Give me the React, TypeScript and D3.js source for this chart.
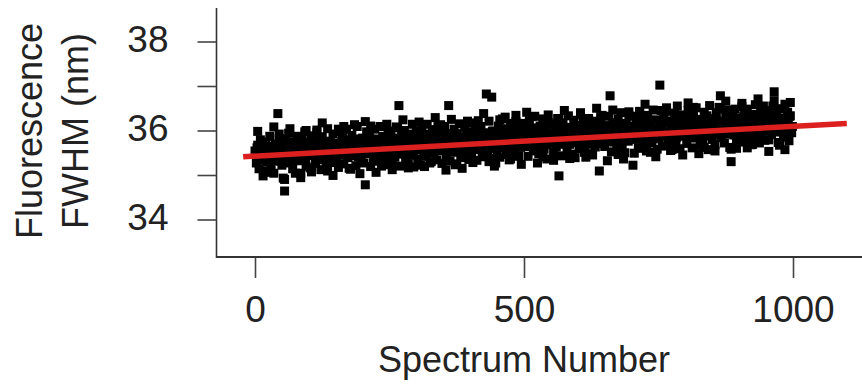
import { useEffect, useRef } from "react";
import * as d3 from "d3";

// FWHM values (nm), even spectra (every 2.5 spectrum numbers)
const fwhm: number[] = [
  35.54, 35.27, 35.67, 35.14, 35.79, 35.41, 35.61, 35.09, 35.74, 35.51, 35.34, 35.87, 35.21, 35.58, 35.04, 35.69, 35.44, 36.38, 35.82, 35.31,
  35.22, 34.93, 34.64, 35.80, 35.42, 35.94, 35.27, 35.60, 35.14, 35.74, 35.49, 35.87, 35.32, 35.66, 35.04, 35.79, 35.40, 35.97, 35.20, 35.58,
  35.74, 35.16, 35.88, 35.50, 35.80, 35.26, 35.96, 35.40, 35.66, 35.12, 35.86, 35.34, 35.60, 35.20, 36.04, 35.46, 35.76, 35.28, 35.92, 35.54,
  35.33, 35.71, 35.17, 35.97, 35.45, 35.85, 35.25, 35.61, 36.03, 35.39, 35.75, 35.13, 35.89, 35.51, 35.81, 35.21, 36.09, 35.41, 35.69, 35.29,
  35.83, 35.27, 34.78, 35.97, 35.51, 35.91, 35.19, 35.69, 35.39, 36.03, 35.59, 35.81, 35.31, 36.09, 35.47, 35.87, 35.23, 35.75, 35.35, 35.99,
  35.48, 35.96, 35.28, 35.74, 35.40, 36.08, 35.56, 36.56, 35.20, 35.88, 35.64, 36.00, 35.36, 35.80, 35.24, 35.92, 35.52, 36.14, 35.44, 35.70,
  35.98, 35.36, 35.86, 35.22, 36.08, 35.64, 35.92, 35.42, 36.14, 35.54, 35.80, 35.30, 36.02, 35.50, 35.72, 35.34, 36.10, 35.58, 35.96, 35.26,
  35.65, 36.09, 35.43, 35.91, 36.56, 35.31, 35.79, 35.51, 36.03, 35.23, 35.93, 35.59, 36.15, 35.39, 35.85, 35.47, 36.07, 35.69, 35.97, 35.35,
  35.91, 35.49, 36.17, 35.65, 36.03, 35.33, 35.81, 35.57, 36.09, 35.41, 35.95, 35.71, 36.82, 35.47, 36.21, 35.61, 36.75, 35.99, 35.37, 35.27,
  35.56, 36.10, 35.40, 35.90, 36.26, 35.62, 36.04, 35.46, 35.82, 35.34, 36.16, 35.70, 36.00, 35.52, 36.20, 35.78, 35.42, 36.08, 35.66, 35.96,
  36.16, 35.64, 35.92, 35.42, 36.22, 35.76, 36.06, 35.54, 36.32, 35.68, 35.96, 35.48, 36.10, 35.80, 36.26, 35.58, 36.02, 35.36, 36.18, 35.72,
  35.73, 36.15, 35.51, 36.01, 35.63, 36.27, 34.98, 35.91, 35.43, 36.17, 35.77, 36.07, 35.55, 36.33, 35.69, 35.97, 35.47, 36.23, 35.85, 36.11,
  36.11, 35.59, 36.35, 35.83, 36.17, 35.51, 36.03, 35.69, 36.27, 35.77, 35.93, 35.45, 36.21, 35.63, 36.09, 35.85, 35.09, 36.31, 35.71, 35.99,
  35.64, 36.10, 35.82, 36.32, 36.78, 35.52, 36.18, 35.74, 36.00, 35.58, 36.26, 35.90, 36.40, 35.68, 36.08, 35.50, 36.16, 35.78, 36.34, 35.86,
  36.08, 35.22, 36.32, 35.80, 36.20, 35.60, 36.42, 35.92, 36.26, 35.68, 36.02, 35.54, 36.34, 35.84, 36.16, 35.72, 36.46, 35.88, 36.24, 35.58,
  35.81, 37.02, 36.15, 35.65, 36.31, 35.93, 36.43, 35.73, 36.21, 35.55, 36.09, 35.85, 36.39, 35.69, 36.25, 35.99, 35.59, 36.35, 35.89, 36.17,
  36.29, 35.71, 36.45, 35.95, 36.19, 35.61, 36.35, 35.83, 36.51, 35.99, 36.25, 35.67, 36.13, 35.79, 36.41, 35.89, 36.33, 35.57, 36.17, 36.03,
  35.80, 36.26, 35.68, 36.40, 35.94, 36.52, 36.78, 35.84, 36.18, 35.72, 36.34, 36.02, 36.46, 35.62, 35.30, 36.30, 35.90, 36.48, 35.78, 36.14,
  36.28, 35.90, 36.54, 35.74, 36.40, 36.04, 36.48, 35.82, 36.16, 35.68, 36.36, 35.98, 36.58, 35.86, 36.24, 35.72, 36.44, 36.08, 36.32, 35.78,
  35.99, 36.45, 35.79, 36.29, 35.91, 36.55, 36.87, 36.07, 36.37, 35.73, 36.49, 35.97, 36.23, 35.85, 36.59, 36.05, 36.41, 35.77, 36.33, 35.95,
];

// FWHM values (nm) for the spectra in between, the dense core of the band
const fwhmBetween: number[] = [
  35.52, 35.61, 35.41, 35.34, 35.55, 35.67, 35.45, 35.37, 35.29, 35.58, 35.50, 35.64, 35.39, 35.56, 35.32, 35.46, 35.70, 35.60, 35.43, 35.36,
  35.43, 35.57, 35.69, 35.38, 35.50, 35.62, 35.33, 35.65, 35.56, 35.45, 35.36, 35.72, 35.60, 35.41, 35.51, 35.66, 35.47, 35.34, 35.68, 35.54,
  35.67, 35.53, 35.43, 35.75, 35.63, 35.39, 35.50, 35.60, 35.71, 35.46, 35.68, 35.36, 35.54, 35.65, 35.74, 35.48, 35.41, 35.62, 35.44, 35.57,
  35.44, 35.67, 35.61, 35.52, 35.75, 35.47, 35.79, 35.55, 35.41, 35.69, 35.58, 35.64, 35.72, 35.43, 35.62, 35.50, 35.70, 35.76, 35.45, 35.53,
  35.66, 35.75, 35.55, 35.48, 35.69, 35.81, 35.59, 35.51, 35.43, 35.72, 35.64, 35.78, 35.53, 35.70, 35.46, 35.60, 35.84, 35.74, 35.57, 35.50,
  35.57, 35.71, 35.83, 35.52, 35.64, 35.76, 35.47, 35.79, 35.70, 35.59, 35.50, 35.86, 35.74, 35.55, 35.65, 35.80, 35.61, 35.48, 35.82, 35.68,
  35.81, 35.67, 35.57, 35.89, 35.77, 35.53, 35.64, 35.74, 35.85, 35.60, 35.82, 35.50, 35.68, 35.79, 35.88, 35.62, 35.55, 35.76, 35.58, 35.71,
  35.58, 35.81, 35.75, 35.66, 35.89, 35.61, 35.93, 35.69, 35.55, 35.83, 35.72, 35.78, 35.86, 35.57, 35.76, 35.64, 35.84, 35.90, 35.59, 35.67,
  35.80, 35.89, 35.69, 35.62, 35.83, 35.95, 35.73, 35.65, 35.57, 35.86, 35.78, 35.92, 35.67, 35.84, 35.60, 35.74, 35.98, 35.88, 35.71, 35.64,
  35.71, 35.85, 35.97, 35.66, 35.78, 35.90, 35.61, 35.93, 35.84, 35.73, 35.64, 36.00, 35.88, 35.69, 35.79, 35.94, 35.75, 35.62, 35.96, 35.82,
  35.95, 35.81, 35.71, 36.03, 35.91, 35.67, 35.78, 35.88, 35.99, 35.74, 35.96, 35.64, 35.82, 35.93, 36.02, 35.76, 35.69, 35.90, 35.72, 35.85,
  35.72, 35.95, 35.89, 35.80, 36.03, 35.75, 36.07, 35.83, 35.69, 35.97, 35.86, 35.92, 36.00, 35.71, 35.90, 35.78, 35.98, 36.04, 35.73, 35.81,
  35.94, 36.03, 35.83, 35.76, 35.97, 36.09, 35.87, 35.79, 35.71, 36.00, 35.92, 36.06, 35.81, 35.98, 35.74, 35.88, 36.12, 36.02, 35.85, 35.78,
  35.85, 35.99, 36.11, 35.80, 35.92, 36.04, 35.75, 36.07, 35.98, 35.87, 35.78, 36.14, 36.02, 35.83, 35.93, 36.08, 35.89, 35.76, 36.10, 35.96,
  36.09, 35.95, 35.85, 36.17, 36.05, 35.81, 35.92, 36.02, 36.13, 35.88, 36.10, 35.78, 35.96, 36.07, 36.16, 35.90, 35.83, 36.04, 35.86, 35.99,
  35.86, 36.09, 36.03, 35.94, 36.17, 35.89, 36.21, 35.97, 35.83, 36.11, 36.00, 36.06, 36.14, 35.85, 36.04, 35.92, 36.12, 36.18, 35.87, 35.95,
  36.08, 36.17, 35.97, 35.90, 36.11, 36.23, 36.01, 35.93, 35.85, 36.14, 36.06, 36.20, 35.95, 36.12, 35.88, 36.02, 36.26, 36.16, 35.99, 35.92,
  35.99, 36.13, 36.25, 35.94, 36.06, 36.18, 35.89, 36.21, 36.12, 36.01, 35.92, 36.28, 36.16, 35.97, 36.07, 36.22, 36.03, 35.90, 36.24, 36.10,
  36.23, 36.09, 35.99, 36.31, 36.19, 35.95, 36.06, 36.16, 36.27, 36.02, 36.24, 35.92, 36.10, 36.21, 36.30, 36.04, 35.97, 36.18, 36.00, 36.13,
  36.00, 36.23, 36.17, 36.08, 36.31, 36.03, 36.35, 36.11, 35.97, 36.25, 36.14, 36.20, 36.28, 35.99, 36.18, 36.06, 36.26, 36.32, 36.01, 36.09,
];

// FWHM values (nm) on the ragged upper and lower edges of the band, every 10 spectra from 5
const fwhmEdge: number[] = [
  35.98, 34.98, 35.06, 36.08, 35.92, 34.90, 36.04, 35.04, 34.94, 36.00,
  35.07, 36.01, 36.17, 35.09, 34.99, 36.03, 36.09, 35.15, 36.13, 35.03,
  36.20, 36.10, 35.06, 35.20, 36.14, 35.12, 36.06, 36.24, 35.16, 35.18,
  36.19, 35.19, 35.27, 36.29, 36.13, 35.11, 36.25, 35.25, 35.15, 36.21,
  35.28, 36.22, 36.38, 35.30, 35.20, 36.24, 36.30, 35.36, 36.34, 35.24,
  36.41, 36.31, 35.27, 35.41, 36.35, 35.33, 36.27, 36.45, 35.37, 35.39,
  36.40, 35.40, 35.48, 36.50, 36.34, 35.32, 36.46, 35.46, 35.36, 36.42,
  35.49, 36.43, 36.59, 35.51, 35.41, 36.45, 36.51, 35.57, 36.55, 35.45,
  36.62, 36.52, 35.48, 35.62, 36.56, 35.54, 36.48, 36.66, 35.58, 35.60,
  36.61, 35.61, 35.69, 36.71, 36.55, 35.53, 36.67, 35.67, 35.57, 36.63,
];

const spectrumStep = 2.5;
const edgeStep = 10;

// linear fit drawn in red, end points
const fitLine = [
  { x: -22, y: 35.41 },
  { x: 1100, y: 36.16 },
];

const xTicks = [0, 500, 1000];
const yTicks = [34, 35, 36, 37, 38];
const yTickLabels = ["34", "", "36", "", "38"];

const App = () => {
  const svgRef = useRef<SVGSVGElement>(null);

  useEffect(() => {
    if (!svgRef.current) return;
    const svg = d3.select(svgRef.current);
    svg.selectAll("*").remove();

    const font = "'Liberation Sans', Arial, sans-serif";
    const ink = "#222";

    const x = d3.scaleLinear().domain([0, 1000]).range([255, 793]);
    const y = d3.scaleLinear().domain([34, 38]).range([219.5, 41.5]);

    // axis lines
    svg.append("line")
      .attr("x1", 216.5).attr("x2", 216.5).attr("y1", 8).attr("y2", 258)
      .attr("stroke", "#333").attr("stroke-width", 1.6);
    svg.append("line")
      .attr("x1", 216).attr("x2", 862).attr("y1", 257).attr("y2", 257)
      .attr("stroke", "#333").attr("stroke-width", 2);

    const yAxis = d3.axisLeft(y)
      .tickValues(yTicks)
      .tickSize(19)
      .tickPadding(29)
      .tickFormat((_d, i) => yTickLabels[i]);
    const gy = svg.append("g").attr("transform", "translate(216.5,0)").call(yAxis);
    gy.select(".domain").remove();
    gy.selectAll(".tick line").attr("stroke", "#444").attr("stroke-width", 1.6);
    gy.selectAll(".tick text")
      .attr("dy", "0.28em")
      .style("font-family", font).style("font-size", "37px").attr("fill", ink);

    const xAxis = d3.axisBottom(x).tickValues(xTicks).tickSize(20).tickFormat(d3.format("d"));
    const gx = svg.append("g").attr("transform", "translate(0,258)").call(xAxis);
    gx.select(".domain").remove();
    gx.selectAll(".tick line").attr("stroke", "#444").attr("stroke-width", 1.6);
    gx.selectAll(".tick text")
      .attr("y", 64).attr("dy", 0)
      .style("font-family", font).style("font-size", "37px").attr("fill", ink);

    // scatter: all sets of spectra
    const points = [
      ...fwhm.map((v, i) => ({ s: i * spectrumStep, v })),
      ...fwhmBetween.map((v, i) => ({ s: i * spectrumStep + spectrumStep / 2, v })),
      ...fwhmEdge.map((v, i) => ({ s: i * edgeStep + edgeStep / 2, v })),
    ];
    const size = 9;
    svg.append("g")
      .selectAll("rect")
      .data(points)
      .join("rect")
      .attr("x", (d) => x(d.s) - size / 2)
      .attr("y", (d) => y(d.v) - size / 2)
      .attr("width", size)
      .attr("height", size)
      .attr("fill", "#000");

    // fit line
    const line = d3.line<{ x: number; y: number }>()
      .x((d) => x(d.x))
      .y((d) => y(d.y));
    svg.append("path")
      .datum(fitLine)
      .attr("d", line)
      .attr("fill", "none")
      .attr("stroke", "#dc1f1f")
      .attr("stroke-width", 5.5);

    // titles
    svg.append("text")
      .attr("x", 524).attr("y", 372)
      .attr("text-anchor", "middle")
      .style("font-family", font).style("font-size", "36px").attr("fill", ink)
      .text("Spectrum Number");
    svg.append("text")
      .attr("transform", "translate(42,131) rotate(-90)")
      .attr("text-anchor", "middle")
      .style("font-family", font).style("font-size", "36px").attr("fill", ink)
      .text("Fluorescence");
    svg.append("text")
      .attr("transform", "translate(88,131) rotate(-90)")
      .attr("text-anchor", "middle")
      .style("font-family", font).style("font-size", "36px").attr("fill", ink)
      .text("FWHM (nm)");
  }, []);

  return (
    <svg
      ref={svgRef}
      width={862}
      height={385}
      style={{ position: "absolute", left: 0, top: 0, background: "#fff" }}
    />
  );
};

export default App;
